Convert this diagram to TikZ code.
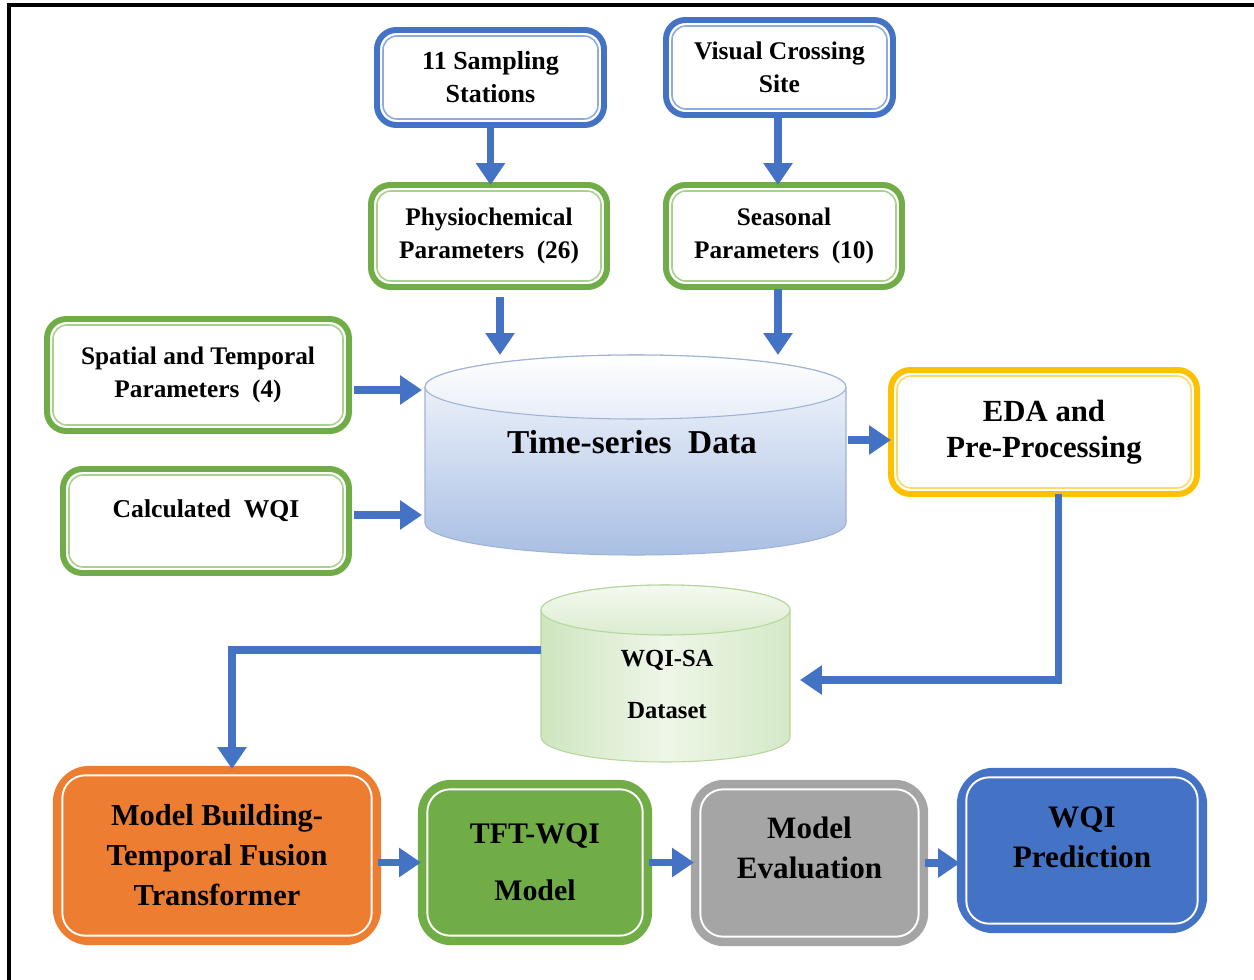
\documentclass[tikz,border=0pt]{standalone}
\usepackage{fontspec}
\setmainfont{Liberation Serif}
\usetikzlibrary{arrows.meta,backgrounds}
\newdimen\pu \pu=0.02cm
\newcommand\fs[2]{\fontsize{#1}{#2}\selectfont\bfseries}
\definecolor{cblue}{HTML}{4472C4}
\definecolor{cbluel}{HTML}{8FAADC}
\definecolor{cgreen}{HTML}{70AD47}
\definecolor{cgreenl}{HTML}{A9D18E}
\definecolor{cgold}{HTML}{FFC000}
\definecolor{cgoldl}{HTML}{FFD966}
\definecolor{corange}{HTML}{ED7D31}
\definecolor{cgray}{HTML}{A5A5A5}
\definecolor{tsline}{HTML}{9FB2D6}
\definecolor{tstop}{HTML}{F7F9FD}
\definecolor{tsbot}{HTML}{A9BFE4}
\definecolor{dsline}{HTML}{B5D69C}
\definecolor{dstop}{HTML}{EEF6E8}
\definecolor{dsbot}{HTML}{C2DFAE}
\begin{document}
\begin{tikzpicture}[x=0.02cm,y=-0.02cm,
  arr/.style={draw=cblue, line width=4pt, -{Triangle[width=16pt,length=12.5pt]}},
  wbox/.style 2 args={draw=#1, line width=3.4pt, fill=white, rounded corners=11pt,
    outer sep=0pt, align=center, inner sep=2pt,
    path picture={\draw[draw=#2, line width=0.9pt, rounded corners=8pt]
      ([shift={(3.4pt,-3.4pt)}]path picture bounding box.north west) rectangle
      ([shift={(-3.4pt,3.4pt)}]path picture bounding box.south east);}},
  fbox/.style={draw=#1, line width=3.6pt, fill=#1, rounded corners=17pt,
    outer sep=0pt, align=center, inner sep=2pt,
    path picture={\draw[draw=white, line width=1.1pt, rounded corners=13pt]
      ([shift={(3.6pt,-3.6pt)}]path picture bounding box.north west) rectangle
      ([shift={(-3.6pt,3.6pt)}]path picture bounding box.south east);}},
  txt/.style={align=center, inner sep=0pt}
]
\useasboundingbox (0,0) rectangle (1254,980);
\draw[line width=1.8pt] (9,990) -- (9,5) -- (1265,5);

% top boxes
\node[wbox={cblue}{cbluel}, minimum width=227*\pu, minimum height=95*\pu, font=\fs{14.8}{18.7}]
  (samp) at (490.5,77.5) {11 Sampling\\Stations};
\node[wbox={cblue}{cbluel}, minimum width=227*\pu, minimum height=95*\pu, font=\fs{14.5}{18.7}]
  (vis) at (779.5,67.5) {Visual Crossing\\Site};
\node[wbox={cgreen}{cgreenl}, minimum width=236*\pu, minimum height=102*\pu, font=\fs{14.4}{18.7}]
  (phys) at (489,236) {Physiochemical\\Parameters\ \ (26)};
\node[wbox={cgreen}{cgreenl}, minimum width=236*\pu, minimum height=102*\pu, font=\fs{14.4}{18.7}]
  (seas) at (784,236) {Seasonal\\Parameters\ \ (10)};
\node[wbox={cgreen}{cgreenl}, minimum width=302*\pu, minimum height=112*\pu, font=\fs{14.4}{18.7}]
  (spat) at (198,375) {Spatial and Temporal\\Parameters\ \ (4)};
\node[wbox={cgreen}{cgreenl}, minimum width=286*\pu, minimum height=104*\pu, font=\fs{14.6}{18.7}, text depth=14pt]
  (calc) at (206,521) {Calculated\ \ WQI};
\node[wbox={cgold}{cgoldl}, minimum width=306*\pu, minimum height=124*\pu, font=\fs{17.5}{20.5}]
  (eda) at (1044,432) {EDA and\\Pre-Processing};

% time-series cylinder
\node[minimum width=421*\pu, minimum height=200*\pu, inner sep=0pt, outer sep=0pt] (ts) at (635.5,455) {};
\node[txt, font=\fs{19}{22}] (tst) at (632,442) {Time-series\ \ Data};
\begin{scope}[on background layer]
  \shade[top color=tstop, bottom color=tsbot, draw=tsline, line width=0.6pt]
    ([yshift=-32*\pu]ts.north west) -- ([yshift=32*\pu]ts.south west)
    arc[start angle=180, end angle=360, x radius=210.5*\pu, y radius=32*\pu]
    -- ([yshift=-32*\pu]ts.north east)
    arc[start angle=0, end angle=180, x radius=210.5*\pu, y radius=32*\pu] -- cycle;
  \shade[top color=white, bottom color=tstop!80!tsbot, draw=tsline, line width=0.6pt]
    ([yshift=-32*\pu]ts.north) ellipse[x radius=210.5*\pu, y radius=32*\pu];
\end{scope}

% dataset cylinder
\node[minimum width=249*\pu, minimum height=177*\pu, inner sep=0pt, outer sep=0pt] (ds) at (665.5,673.5) {};
\node[txt, font=\fs{14}{30}] (dst) at (667,684.5) {WQI-SA\\Dataset};
\begin{scope}[on background layer]
  \shade[left color=dsbot!80!white, right color=dsbot!70!white, middle color=dstop, draw=dsline, line width=0.6pt]
    ([yshift=-25*\pu]ds.north west) -- ([yshift=25*\pu]ds.south west)
    arc[start angle=180, end angle=360, x radius=124.5*\pu, y radius=25*\pu]
    -- ([yshift=-25*\pu]ds.north east)
    arc[start angle=0, end angle=180, x radius=124.5*\pu, y radius=25*\pu] -- cycle;
  \shade[top color=dstop!60!white, bottom color=dsbot!60!white, draw=dsline, line width=0.6pt]
    ([yshift=-25*\pu]ds.north) ellipse[x radius=124.5*\pu, y radius=25*\pu];
\end{scope}

% bottom row
\node[fbox=corange, minimum width=322*\pu, minimum height=173*\pu, font=\fs{17.3}{22.8}, rounded corners=19pt]
  (mb) at (217,855.5) {Model Building-\\Temporal Fusion\\Transformer};
\node[fbox=cgreen, minimum width=228*\pu, minimum height=159*\pu, font=\fs{17}{32.4}]
  (tft) at (535,862.5) {TFT-WQI\\Model};
\node[fbox=cgray, minimum width=231*\pu, minimum height=160*\pu, font=\fs{17.7}{22.8}, text depth=17pt]
  (eval) at (809.5,863) {Model\\Evaluation};
\node[fbox=cblue, minimum width=244*\pu, minimum height=159*\pu, font=\fs{17.8}{22.8}, rounded corners=19pt, text depth=15pt]
  (pred) at (1082,850.5) {WQI\\Prediction};

% connectors
\draw[arr] (samp.south) -- (samp.south |- phys.north);
\draw[arr] ([xshift=-1.5*\pu]vis.south) -- ([xshift=-1.5*\pu]vis.south |- seas.north);
\coordinate (p1) at ([xshift=11*\pu,yshift=-10*\pu]phys.south);
\draw[arr] (p1) -- (p1 |- ts.north);
\coordinate (q1) at ([xshift=-6*\pu,yshift=-2*\pu]seas.south);
\draw[arr] (q1) -- (q1 |- ts.north);
\coordinate (s1) at ([xshift=5*\pu,yshift=-15*\pu]spat.east);
\draw[arr] (s1) -- ([xshift=-3*\pu]s1 -| ts.west);
\coordinate (c1) at ([xshift=5*\pu,yshift=6*\pu]calc.east);
\draw[arr] (c1) -- ([xshift=-3*\pu]c1 -| ts.west);
\coordinate (t1) at ([xshift=2*\pu,yshift=15*\pu]ts.east);
\draw[arr] (t1) -- (t1 -| eda.west);
\coordinate (e1) at ([xshift=14*\pu]eda.south);
\coordinate (d1) at ([xshift=10*\pu,yshift=-6.5*\pu]ds.east);
\draw[arr] (e1) |- (d1);
\coordinate (d2) at ([yshift=23.5*\pu]ds.west);
\coordinate (m1) at ([xshift=15*\pu]mb.north);
\draw[arr] (d2) -| (m1);
\coordinate (b1) at (mb.east |- tft.west);
\draw[arr] (b1) -- (tft.west);
\draw[arr] (tft.east) -- (tft.east -| eval.west);
\draw[arr] (eval.east) -- (eval.east -| pred.west);
\end{tikzpicture}
\end{document}
